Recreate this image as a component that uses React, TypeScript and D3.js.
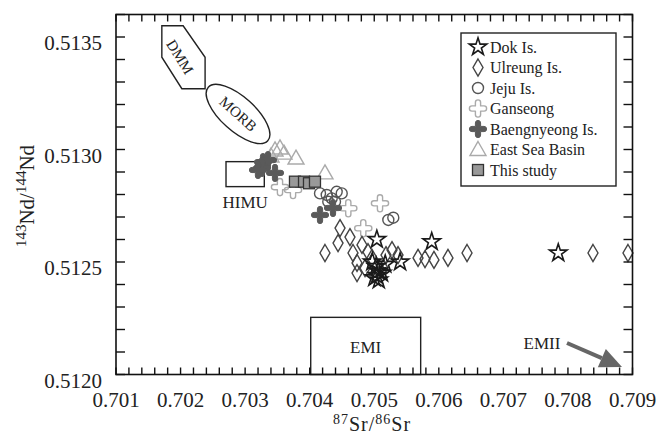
import React from "react";
import * as d3 from "d3";

// Sr–Nd isotope compositions, [87Sr/86Sr, 143Nd/144Nd]
const dokIs: [number, number][] = [
  [0.70504, 0.51260], [0.70540, 0.51250], [0.70589, 0.51259], [0.70785, 0.51254],
  [0.70506, 0.51246], [0.70504, 0.51244], [0.70507, 0.51242], [0.70503, 0.51248],
  [0.70497, 0.51250], [0.70517, 0.51249], [0.70512, 0.51245], [0.70500, 0.51243],
];
const ulreungIs: [number, number][] = [
  [0.704237, 0.51254], [0.704470, 0.512651], [0.704624, 0.512611], [0.704439, 0.512584],
  [0.704671, 0.51254], [0.704733, 0.512496], [0.704733, 0.512451], [0.705678, 0.512518],
  [0.705786, 0.512513], [0.705925, 0.512509], [0.706142, 0.512518], [0.706437, 0.51254],
  [0.708388, 0.51254], [0.708930, 0.51254], [0.704810, 0.512576], [0.704903, 0.512544],
  [0.704965, 0.512518], [0.705182, 0.512531], [0.705275, 0.512553], [0.705368, 0.512531],
  [0.704857, 0.512473], [0.705136, 0.512473],
];
const jejuIs: [number, number][] = [
  [0.704160, 0.512805], [0.704264, 0.512798], [0.704341, 0.512783], [0.704418, 0.512812],
  [0.704496, 0.512805], [0.704288, 0.512768], [0.704392, 0.512768], [0.705218, 0.512687],
  [0.705295, 0.512697],
];
const ganseong: [number, number][] = [
  [0.703540, 0.512833], [0.703742, 0.512820], [0.704598, 0.512739], [0.705089, 0.512761],
  [0.704830, 0.512650],
];
const baengnyeongIs: [number, number][] = [
  [0.703277, 0.512944], [0.703354, 0.512953], [0.703261, 0.512918], [0.703199, 0.512909],
  [0.703463, 0.512896], [0.704160, 0.512709], [0.704361, 0.512740],
];
const eastSeaBasin: [number, number][] = [
  [0.703463, 0.512998], [0.703540, 0.513007], [0.703602, 0.512984], [0.703788, 0.512962],
  [0.704237, 0.512896], [0.703401, 0.512971],
];
const thisStudy: [number, number][] = [
  [0.703772, 0.512857], [0.703912, 0.512857], [0.703989, 0.512850], [0.704082, 0.512857],
];

// Mantle end-member fields
const dmmField: [number, number][] = [
  [0.70171, 0.51355], [0.70204, 0.51355], [0.70238, 0.51341],
  [0.70238, 0.51327], [0.70202, 0.51327], [0.70171, 0.51341],
];
const morbCenter: [number, number] = [0.70289, 0.513158];
const himuBox: [number, number, number, number] = [0.702704, 0.512946, 0.703297, 0.512835];
const emiBox: [number, number, number, number] = [0.704016, 0.512254, 0.705719, 0.5120];

const xTicks = [0.701, 0.702, 0.703, 0.704, 0.705, 0.706, 0.707, 0.708, 0.709];
const yTicks = [0.512, 0.5125, 0.513, 0.5135];

const seriesNames = [
  "Dok Is.", "Ulreung Is.", "Jeju Is.", "Ganseong", "Baengnyeong Is.", "East Sea Basin", "This study",
];

const W = 658;
const H = 436;
const left = 116, right = 632.5, top = 14.5, bottom = 374.5;

const x = d3.scaleLinear().domain([0.701, 0.709]).range([left, right]);
const y = d3.scaleLinear().domain([0.512, 0.5136]).range([bottom, top]);

const serif = "'Liberation Serif', 'Times New Roman', serif";

type Kind = "star" | "diamond" | "circle" | "ganseong" | "baeng" | "triangle" | "square";

// four-armed outline cross with rounded arm ends
const crossPath = (arm: number, half: number) =>
  `M${-half},${-arm}A${half},${half} 0 0 1 ${half},${-arm}L${half},${-half}L${arm},${-half}` +
  `A${half},${half} 0 0 1 ${arm},${half}L${half},${half}L${half},${arm}` +
  `A${half},${half} 0 0 1 ${-half},${arm}L${-half},${half}L${-arm},${half}` +
  `A${half},${half} 0 0 1 ${-arm},${-half}L${-half},${-half}Z`;

function Marker({ kind, cx, cy }: { kind: Kind; cx: number; cy: number }) {
  const t = `translate(${cx},${cy})`;
  switch (kind) {
    case "star":
      return <path transform={t} d={d3.symbol(d3.symbolStar, 95)()!} fill="none" stroke="#1a1a1a" strokeWidth={1.6} />;
    case "diamond":
      return <path transform={t} d="M0,-8.5L5,0L0,8.5L-5,0Z" fill="none" stroke="#444" strokeWidth={1.4} />;
    case "circle":
      return <circle cx={cx} cy={cy} r={5.5} fill="none" stroke="#555" strokeWidth={1.4} />;
    case "ganseong":
      return <path transform={t} d={crossPath(6, 2.6)} fill="none" stroke="#aaa" strokeWidth={1.4} strokeLinejoin="round" />;
    case "baeng":
      return <path transform={t} d={crossPath(6, 2.6)} fill="#5a5a5a" stroke="#5a5a5a" strokeWidth={1} strokeLinejoin="round" />;
    case "triangle":
      return <path transform={t} d="M0,-8L8,6L-8,6Z" fill="none" stroke="#aaa" strokeWidth={1.4} />;
    case "square":
      return <rect x={cx - 5.5} y={cy - 5.5} width={11} height={11} fill="#999" stroke="#333" strokeWidth={1.3} />;
  }
}

const groups: { kind: Kind; data: [number, number][] }[] = [
  { kind: "triangle", data: eastSeaBasin },
  { kind: "ganseong", data: ganseong },
  { kind: "circle", data: jejuIs },
  { kind: "diamond", data: ulreungIs },
  { kind: "baeng", data: baengnyeongIs },
  { kind: "square", data: thisStudy },
  { kind: "star", data: dokIs },
];
const legendKinds: Kind[] = ["star", "diamond", "circle", "ganseong", "baeng", "triangle", "square"];

export default function App() {
  const xMinor = d3.range(0, 41).map((i) => 0.701 + i * 0.0002);
  const yMinor = d3.range(0, 17).map((i) => 0.512 + i * 0.0001);
  const dmmPath = d3.line()(dmmField.map(([a, b]) => [x(a), y(b)]))! + "Z";
  const [mx, my] = [x(morbCenter[0]), y(morbCenter[1])];
  const arrowFrom: [number, number] = [567, 343];
  const arrowTo: [number, number] = [622, 367];
  const ang = Math.atan2(arrowTo[1] - arrowFrom[1], arrowTo[0] - arrowFrom[0]);
  const headLen = 22, headW = 10;
  const bx = arrowTo[0] - headLen * Math.cos(ang), by = arrowTo[1] - headLen * Math.sin(ang);
  const head = `M${arrowTo[0]},${arrowTo[1]}L${bx - headW * Math.sin(ang)},${by + headW * Math.cos(ang)}L${bx + headW * Math.sin(ang)},${by - headW * Math.cos(ang)}Z`;

  return (
    <svg width={W} height={H} style={{ position: "absolute", left: 0, top: 0, background: "#fff" }} fontFamily={serif}>
      {/* end-member fields */}
      <path d={dmmPath} fill="none" stroke="#222" strokeWidth={1.4} />
      <text transform={`translate(${x(0.701991)},${y(0.513411)}) rotate(58)`} textAnchor="middle" dominantBaseline="central" fontSize={15} fill="#222">DMM</text>
      <ellipse transform={`translate(${mx},${my}) rotate(42)`} rx={40} ry={17} fill="none" stroke="#222" strokeWidth={1.4} />
      <text transform={`translate(${mx},${my}) rotate(42)`} textAnchor="middle" dominantBaseline="central" fontSize={15} fill="#222">MORB</text>
      <rect x={x(himuBox[0])} y={y(himuBox[1])} width={x(himuBox[2]) - x(himuBox[0])} height={y(himuBox[3]) - y(himuBox[1])} fill="none" stroke="#222" strokeWidth={1.4} />
      <text x={(x(himuBox[0]) + x(himuBox[2])) / 2} y={208} textAnchor="middle" fontSize={17} fill="#222">HIMU</text>
      <rect x={x(emiBox[0])} y={y(emiBox[1])} width={x(emiBox[2]) - x(emiBox[0])} height={y(emiBox[3]) - y(emiBox[1])} fill="none" stroke="#222" strokeWidth={1.4} />
      <text x={(x(emiBox[0]) + x(emiBox[2])) / 2} y={353} textAnchor="middle" fontSize={17} fill="#222">EMI</text>
      <text x={542} y={349} textAnchor="middle" fontSize={17} fill="#222">EMII</text>
      <line x1={arrowFrom[0]} y1={arrowFrom[1]} x2={bx} y2={by} stroke="#666" strokeWidth={4} />
      <path d={head} fill="#666" />

      {/* data */}
      {groups.map((g, gi) => (
        <g key={gi}>
          {g.data.map(([a, b], i) => (
            <Marker key={i} kind={g.kind} cx={x(a)} cy={y(b)} />
          ))}
        </g>
      ))}

      {/* frame and ticks */}
      <rect x={left} y={top} width={right - left} height={bottom - top} fill="none" stroke="#111" strokeWidth={1.6} />
      {xMinor.map((v, i) => (
        <g key={"xt" + i} stroke="#111" strokeWidth={1.4}>
          <line x1={x(v)} x2={x(v)} y1={bottom} y2={bottom - 7} />
          <line x1={x(v)} x2={x(v)} y1={top} y2={top + 7} />
        </g>
      ))}
      {yMinor.map((v, i) => (
        <g key={"yt" + i} stroke="#111" strokeWidth={1.4}>
          <line x1={left} x2={left + 9} y1={y(v)} y2={y(v)} />
          <line x1={right} x2={right - 9} y1={y(v)} y2={y(v)} />
        </g>
      ))}
      {xTicks.map((v) => (
        <text key={"xl" + v} x={x(v)} y={407} textAnchor="middle" fontSize={21} fill="#222">{d3.format(".3f")(v)}</text>
      ))}
      {yTicks.map((v) => (
        <text key={"yl" + v} x={102} y={y(v) + 13} textAnchor="end" fontSize={21} fill="#222">{d3.format(".4f")(v)}</text>
      ))}

      {/* axis titles */}
      <text x={372} y={431} textAnchor="middle" fontSize={20} letterSpacing={1} fill="#222">
        <tspan fontSize={14} dy={-7}>87</tspan>
        <tspan dy={7}>Sr/</tspan>
        <tspan fontSize={14} dy={-7}>86</tspan>
        <tspan dy={7}>Sr</tspan>
      </text>
      <text transform={`translate(34,${196}) rotate(-90)`} textAnchor="middle" fontSize={21} fill="#222">
        <tspan fontSize={15} dy={-8}>143</tspan>
        <tspan dy={8}>Nd/</tspan>
        <tspan fontSize={15} dy={-8}>144</tspan>
        <tspan dy={8}>Nd</tspan>
      </text>

      {/* legend */}
      <rect x={461} y={33} width={155} height={153} fill="#fff" stroke="#222" strokeWidth={1.4} />
      {seriesNames.map((name, i) => {
        const ly = 47 + i * 20.5;
        return (
          <g key={name}>
            <Marker kind={legendKinds[i]} cx={478} cy={ly} />
            <text x={490} y={ly + 5.5} fontSize={16} fill="#222">{name}</text>
          </g>
        );
      })}
    </svg>
  );
}
